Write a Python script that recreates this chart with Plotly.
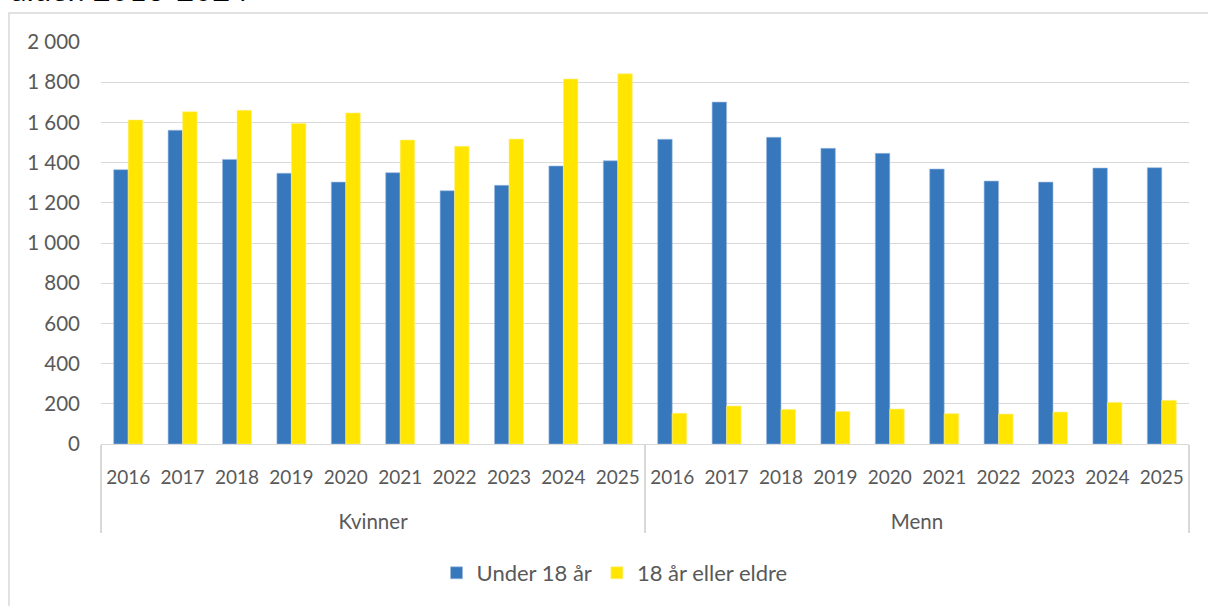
import plotly.graph_objects as go

groups = ["Kvinner"] * 10 + ["Menn"] * 10
years = [str(y) for y in range(2016, 2026)] * 2

under_18 = [1365, 1561, 1416, 1347, 1303, 1350, 1260, 1287, 1383, 1409,
            1516, 1701, 1526, 1471, 1446, 1368, 1308, 1303, 1373, 1375]
adult = [1612, 1653, 1660, 1595, 1647, 1512, 1481, 1517, 1816, 1842,
         153, 189, 172, 162, 174, 151, 149, 159, 207, 217]

series_names = ["Under 18 år", "18 år eller eldre"]
title_text = "alder. 2016-2024"

BLUE = "#3778BD"
YELLOW = "#FFE500"
GRID = "#D9D9D9"
TXT = "#595959"
FONT = "Lato"

# label styling: axis font is larger (pushes the group row lower), visible text smaller
group_labels = ["<br><span style='font-size:20.5px'>" + g + "</span>" for g in groups]
year_labels = ["<span style='font-size:19px'>" + y + "</span>" for y in years]

fig = go.Figure()
fig.add_trace(go.Bar(x=[group_labels, year_labels], y=under_18, name=series_names[0],
                     marker=dict(color=BLUE, line=dict(color="#9DBBE0", width=0.6))))
fig.add_trace(go.Bar(x=[group_labels, year_labels], y=adult, name=series_names[1],
                     marker=dict(color=YELLOW, line=dict(color="#FFF080", width=0.6))))

fig.update_layout(
    width=1208, height=606,
    margin=dict(l=101, r=19, t=42, b=162, autoexpand=False),
    paper_bgcolor="white", plot_bgcolor="white",
    barmode="group", bargap=0.467, bargroupgap=0,
    separators=", ",
    font=dict(family=FONT, color=TXT, size=19),
    showlegend=True,
    legend=dict(orientation="h", x=0.472, xanchor="center", y=-0.321, yanchor="middle",
                font=dict(family=FONT, size=22, color=TXT), traceorder="normal"),
    xaxis=dict(type="multicategory", showgrid=False, showline=True, linecolor=GRID,
               linewidth=1, ticks="", ticklabelstandoff=11,
               showdividers=True, dividercolor=GRID, dividerwidth=1.5,
               automargin=False,
               tickfont=dict(family=FONT, size=23.5, color=TXT)),
    yaxis=dict(range=[0, 2000], dtick=200, showgrid=True, gridcolor=GRID, gridwidth=1,
               zeroline=False, showline=False, separatethousands=True,
               ticklabelstandoff=20, automargin=False,
               tickfont=dict(family=FONT, size=20.5, color=TXT)),
)

# outer chart border (partially cut off like the reference)
fig.add_shape(type="rect", xref="paper", yref="paper",
              x0=-0.0846, x1=1.03, y0=-0.45, y1=1.0721,
              line=dict(color=GRID, width=1.5), fillcolor="rgba(0,0,0,0)", layer="below")

fig.add_annotation(text=title_text, xref="paper", yref="paper",
                   x=-0.0846, xanchor="left", y=1.0785, yanchor="bottom",
                   showarrow=False, font=dict(family=FONT, size=31, color="#000000"))

fig.write_html("out.html", config={"displayModeBar": False},
               post_script="document.body.style.margin='0';")
